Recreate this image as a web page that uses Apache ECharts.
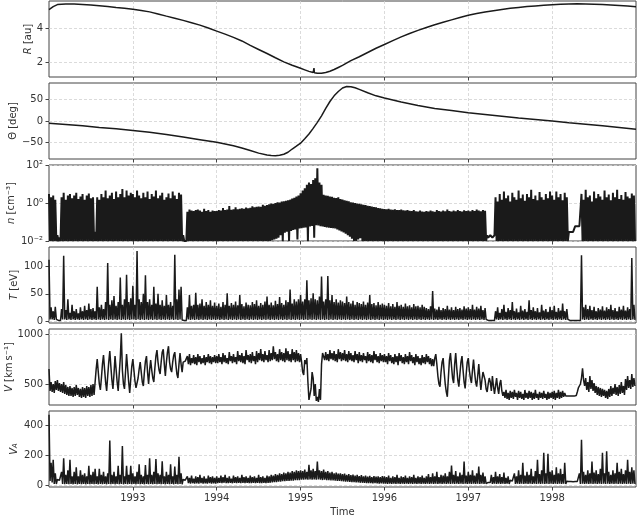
<!DOCTYPE html>
<html><head><meta charset="utf-8">
<script src="https://cdn.jsdelivr.net/npm/echarts@6.0.0/dist/echarts.min.js"></script>
<style>html,body{margin:0;padding:0;background:#fff}#c{width:637px;height:518px}</style>
</head><body><div id="c"></div>
<script>
// ---------------- data ----------------
const yearTicks = [1993, 1994, 1995, 1996, 1997, 1998];

// heliocentric distance R [au]
const rYears = [1992.00,1992.05,1992.10,1992.20,1992.30,1992.40,1992.50,1992.60,1992.70,1992.80,1992.90,
  1993.00,1993.10,1993.20,1993.30,1993.40,1993.50,1993.60,1993.70,1993.80,1993.90,
  1994.00,1994.10,1994.20,1994.30,1994.40,1994.50,1994.60,1994.70,1994.80,1994.90,1994.95,
  1995.00,1995.05,1995.10,1995.15,1995.155,1995.16,1995.165,1995.20,1995.25,1995.30,1995.35,1995.40,1995.45,1995.50,1995.60,1995.70,1995.80,1995.90,
  1996.00,1996.10,1996.20,1996.30,1996.40,1996.50,1996.60,1996.70,1996.80,1996.90,
  1997.00,1997.10,1997.20,1997.30,1997.40,1997.50,1997.60,1997.70,1997.80,1997.90,
  1998.00,1998.10,1998.20,1998.30,1998.40,1998.50,1998.60,1998.70,1998.80,1998.90,1999.00];
const rValues = [5.10,5.28,5.40,5.43,5.43,5.41,5.37,5.33,5.29,5.23,5.18,
  5.12,5.05,4.97,4.85,4.72,4.60,4.47,4.33,4.19,4.02,
  3.84,3.66,3.47,3.26,3.00,2.76,2.52,2.27,2.03,1.83,1.74,
  1.65,1.56,1.47,1.40,1.395,1.66,1.39,1.355,1.36,1.40,1.48,1.58,1.70,1.82,2.10,2.33,2.58,2.83,
  3.05,3.28,3.50,3.70,3.88,4.05,4.21,4.36,4.50,4.64,
  4.77,4.87,4.96,5.04,5.11,5.18,5.23,5.28,5.32,5.36,
  5.39,5.42,5.44,5.45,5.44,5.42,5.40,5.38,5.35,5.31,5.27];

// heliographic latitude Theta [deg]
const thetaYears = [1992.0,1992.2,1992.4,1992.6,1992.8,1993.0,1993.2,1993.4,1993.6,1993.8,
  1994.0,1994.1,1994.2,1994.3,1994.4,1994.5,1994.6,1994.65,1994.7,1994.75,1994.8,1994.85,1994.9,1994.95,
  1995.0,1995.05,1995.1,1995.15,1995.2,1995.25,1995.3,1995.35,1995.4,1995.45,1995.5,1995.55,1995.6,1995.65,1995.7,1995.8,1995.9,
  1996.0,1996.2,1996.4,1996.6,1996.8,1997.0,1997.2,1997.4,1997.6,1997.8,1998.0,1998.2,1998.4,1998.6,1998.8,1999.0];
const thetaValues = [-5,-8,-11,-15,-18,-22,-26,-31,-37,-43,
  -49,-53,-57,-62,-68,-74,-78.5,-79.7,-80,-79,-76.5,-72,-64.5,-58,
  -51,-41,-30,-17,-3,12,29,45,58,68,76,79.5,79,76.5,73,65,58,
  53,44,36,29,24,19,15,11,7,3.5,0,-4,-7.5,-11,-15,-19];

// dense series, sampled every 1/80 yr starting 1992.0
const SAMPLE_START = 1992, SAMPLES_PER_YEAR = 80;

// proton density n [cm^-3]
const nValues = [
 3,.01,2,.01,2.5,.01,1.5,.01,.02,.01,.015,.01,2,.01,3.5,.01,
 1.5,.01,2.5,.01,3,.01,1.8,.01,2.5,.01,3.5,.01,1.6,.01,2.2,.01,
 3,.01,1.5,.01,2.5,.01,3.2,.01,1.8,.01,2,.01,.03,.01,2,.01,
 1.5,.01,3,.01,2,.01,4.5,.01,1.8,.01,2.5,.01,3.5,.01,1.6,.01,
 4,.01,2,.01,3,.01,5.5,.01,2,.01,4.5,.01,2.5,.01,3.5,.01,
 3,.01,2,.01,4.5,.01,2.5,.01,1.8,.01,3.5,.01,2,.01,4,.01,
 1.6,.01,3,.01,2.2,.01,4.5,.01,1.8,.01,2.5,.01,3.5,.01,1.5,.01,
 2,.01,3.2,.01,1.8,.01,4,.01,2.5,.01,1.6,.01,3.5,.01,2.8,.01,
 .02,.01,.012,.01,.35,.01,.45,.01,.4,.01,.38,.01,.42,.01,.45,.01,
 .4,.01,.35,.01,.5,.01,.38,.01,.42,.01,.35,.01,.4,.01,.38,.01,
 .38,.01,.42,.01,.4,.01,.55,.01,.42,.01,.45,.01,.7,.01,.44,.01,
 .46,.01,.6,.01,.47,.01,.5,.01,.52,.01,.5,.01,.58,.01,.53,.01,
 .56,.01,.68,.01,.6,.01,.63,.01,.66,.01,.64,.01,.8,.01,.72,.01,
 .78,.01,.85,.01,.95,.011,.9,.012,1,.013,1.1,.015,1.05,.02,1.2,.01,
 1.25,.027,1.3,.031,1.4,.01,1.5,.034,1.7,.038,1.9,.04,2.2,.012,2.5,.046,
 3.2,.047,4.5,.05,6,.052,9,.01,12,.058,10,.062,16,.015,20,.068,
 68,.065,12,.06,9,.058,2.7,.055,2.5,.052,2.4,.05,2.2,.048,2.1,.047,
 1.9,.045,1.8,.04,2,.036,1.6,.032,1.5,.028,1.4,.024,1.3,.02,1.25,.017,
 1.1,.013,1.05,.01,1,.01,.95,.012,.9,.014,.85,.01,.8,.01,.78,.01,
 .72,.01,.7,.01,.65,.01,.62,.01,.6,.01,.55,.01,.52,.01,.5,.01,
 .48,.01,.47,.01,.5,.01,.45,.01,.44,.01,.47,.01,.43,.01,.42,.01,
 .45,.01,.41,.01,.4,.01,.43,.01,.39,.01,.38,.01,.42,.01,.37,.01,
 .36,.01,.4,.01,.36,.01,.35,.01,.38,.01,.36,.01,.4,.01,.37,.01,
 .35,.01,.42,.01,.38,.01,.36,.01,.4,.01,.37,.01,.45,.01,.38,.01,
 .36,.01,.4,.01,.37,.01,.42,.01,.38,.01,.36,.01,.41,.01,.38,.01,
 .4,.01,.37,.01,.42,.01,.38,.01,.45,.01,.4,.01,.37,.01,.42,.01,
 .39,.01,.02,.015,.015,.02,.02,.015,.015,.02,2,.01,1.2,.01,3,.01,
 1.5,.01,4,.01,1.8,.01,2.5,.01,1.2,.01,3.5,.01,2,.01,1.5,.01,
 4.5,.01,1.8,.01,2.8,.01,1.3,.01,3,.01,2,.01,5,.01,1.6,.01,
 2.5,.01,1.4,.01,3.8,.01,2,.01,1.5,.01,3,.01,1.8,.01,4,.01,
 2.5,.01,1.5,.01,4,.01,2,.01,3,.01,1.4,.01,3.5,.01,2,.01,
 .03,.03,.03,.03,.03,.03,.06,.06,.06,.06,.06,.06,3,.01,1.5,.01,
 5,.01,2,.01,2.5,.01,1.2,.01,4,.01,1.8,.01,3,.01,2.2,.01,
 1.5,.01,4.5,.01,2,.01,2.8,.01,1.4,.01,3.5,.01,2,.01,5,.01,
 1.6,.01,2.6,.01,1.5,.01,3.8,.01,2.2,.01,1.8,.01,3.2,.01,2.5,.01];

// proton temperature T [eV]
const tValues = [
 113,3,25,3,18,2,26,3,3,1,2,1,22,3,120,3,
 20,2,40,3,15,2,30,3,18,2,22,3,14,2,25,3,
 18,2,28,3,20,2,32,3,22,2,24,3,18,2,63,3,
 25,2,30,3,22,2,35,3,107,2,30,3,38,2,46,3,
 28,2,35,3,80,2,30,3,40,2,85,3,35,2,42,3,
 65,3,30,2,129,3,40,2,35,3,50,2,84,3,35,2,
 40,3,30,2,63,3,32,2,50,3,30,2,38,3,28,2,
 48,3,30,2,35,3,28,2,122,3,40,2,58,3,63,2,
 3,1,2,1,25,3,48,2,28,3,30,2,52,3,30,2,
 32,3,40,2,28,3,35,2,30,3,38,2,28,3,34,2,
 28,3,32,2,26,3,35,2,30,3,51,2,28,3,33,2,
 30,3,36,2,29,3,48,2,31,3,27,2,34,3,30,2,
 29,3,35,2,31,3,38,2,28,3,33,2,30,3,36,2,
 45,3,30,2,34,3,29,2,37,3,31,2,44,3,33,2,
 30,3,38,2,35,3,58,2,32,3,40,2,36,3,40,2,
 48,3,36,2,40,3,75,2,38,3,42,2,51,3,40,2,
 38,3,45,2,82,3,36,2,40,3,83,2,38,3,48,2,
 35,3,40,2,34,3,38,2,36,3,33,2,45,3,35,2,
 32,3,37,2,30,3,35,2,33,3,31,2,36,3,30,2,
 34,3,48,2,31,3,33,2,29,3,35,2,30,3,32,2,
 30,3,28,2,33,3,27,2,31,3,26,2,35,3,28,2,
 30,3,26,2,32,3,27,2,29,3,25,2,31,3,27,2,
 28,3,25,2,30,3,26,2,24,3,22,2,27,3,55,2,
 23,3,21,2,26,3,20,2,24,3,22,2,28,3,21,2,
 25,3,20,2,26,3,22,2,24,3,21,2,27,3,23,2,
 25,3,22,2,30,3,21,2,26,3,23,2,28,3,20,2,
 24,3,3,1,2,1,3,1,2,1,18,3,25,2,15,3,
 22,2,30,3,17,2,24,3,20,2,35,3,18,2,23,3,
 16,2,28,3,19,2,22,3,17,2,38,3,20,2,25,3,
 18,2,24,3,16,2,30,3,19,2,22,3,17,2,26,3,
 20,2,28,3,17,2,24,3,19,2,32,3,18,2,22,3,
 3,1,2,1,2,1,3,1,2,1,3,1,121,3,25,2,
 30,3,22,2,28,3,20,2,26,3,18,2,24,3,21,2,
 27,3,19,2,25,3,22,2,30,3,20,2,24,3,18,2,
 26,3,21,2,28,3,19,2,25,3,22,2,116,3,30,2];

// solar wind speed V [km/s]
const vValues = [
 650,430,520,420,500,410,530,440,540,430,510,420,500,410,520,400,
 490,390,470,380,480,380,460,370,470,380,490,390,460,370,450,360,
 470,370,460,360,480,380,470,370,490,380,500,390,
 520,650,750,620,500,440,560,700,
 790,650,520,430,580,720,830,680,
 540,450,600,780,650,520,430,600,
 760,1010,640,500,450,620,800,660,
 520,410,550,680,
 750,640,530,460,440,560,650,720,
 620,520,480,620,730,780,620,500,
 640,740,640,560,520,660,780,840,
 720,640,600,720,820,850,700,580,
 720,820,880,720,650,620,720,790,
 820,700,600,560,700,810,700,620,
 720,740,730,750,
 780,700,800,690,760,710,790,700,
 770,690,800,720,780,700,760,710,
 790,690,770,720,800,710,780,700,
 770,720,790,710,
 780,710,800,720,770,700,810,720,790,710,760,700,820,730,780,710,
 800,720,770,700,830,730,790,720,810,710,780,700,840,740,790,720,
 800,710,820,730,780,700,830,720,810,740,850,730,800,720,830,740,
 790,720,840,730,810,740,880,750,820,730,800,720,850,740,820,730,
 810,720,860,740,830,730,800,720,850,740,820,720,840,730,810,720,
 800,720,620,590,740,700,760,520,340,330,450,620,560,380,500,330,
 370,320,450,340,700,812,800,740,820,740,800,730,840,750,810,740,
 830,730,800,720,850,750,820,730,810,740,840,730,800,720,830,740,
 810,730,790,720,830,740,800,710,820,730,790,720,810,740,780,710,
 820,730,800,720,790,710,830,740,800,720,780,710,810,730,790,720,
 800,720,780,700,810,730,790,710,770,700,800,720,780,690,810,730,
 790,710,770,700,800,720,780,700,820,730,790,710,770,690,800,720,
 780,700,760,690,790,710,770,700,800,720,780,700,760,680,
 750,680,760,800,700,580,500,473,
 620,720,760,620,500,420,372,560,
 740,810,680,560,510,700,810,660,
 540,473,600,720,780,640,520,456,
 600,720,
 760,640,560,510,640,745,620,520,
 473,580,700,560,440,540,620,640,
 540,450,420,500,560,520,430,580,
 480,400,480,560,460,400,500,540,
 430,380,
 420,360,440,350,410,340,430,360,
 420,350,440,370,410,340,430,360,
 420,350,400,340,440,360,410,350,
 430,360,420,340,410,350,440,360,
 400,340,420,360,410,350,430,360,
 400,340,420,350,410,360,
 420,350,430,340,410,360,440,350,
 420,360,430,370,410,380,
 380,380,380,380,380,380,378,378,380,385,
 420,460,440,500,560,658,540,480,
 560,440,520,420,580,450,540,430,
 510,410,480,390,470,380,460,370,
 450,380,440,360,430,350,450,370,
 480,380,460,400,500,390,470,380,
 490,400,520,410,480,390,550,440,
 580,460,540,450,600,470,560,480];

// Alfven speed V_A [km/s]
const vaValues = [
 468,30,150,20,170,10,80,10,40,30,35,30,90,10,180,8,
 70,10,100,8,170,10,60,8,90,10,120,8,60,10,100,8,
 70,10,80,8,60,10,130,8,70,10,90,8,110,10,60,8,
 110,10,70,8,90,10,60,8,80,10,298,8,70,10,90,8,
 60,10,130,8,70,10,262,8,60,10,130,8,70,10,130,8,
 80,10,60,8,90,10,140,8,70,10,60,8,135,10,70,8,
 180,10,70,8,90,10,175,8,80,10,70,8,160,10,60,8,
 90,10,70,8,140,10,60,8,125,10,70,8,190,10,80,8,
 40,35,35,30,60,15,50,12,65,15,45,12,60,14,55,12,
 70,15,50,12,60,14,45,12,65,15,55,12,60,14,50,12,
 60,15,50,18,65,15,55,18,70,16,50,15,60,18,45,15,
 65,17,55,15,60,18,50,15,70,17,55,15,60,18,50,16,
 65,15,55,18,60,15,50,17,70,16,55,15,60,18,50,15,
 65,17,60,18,70,20,65,22,75,22,70,25,80,25,75,28,
 85,28,80,30,90,30,85,32,95,32,90,35,100,35,95,35,
 100,38,95,38,105,40,90,38,137,40,100,38,110,40,95,38,
 159,40,100,38,95,36,105,38,90,36,95,35,85,34,90,33,
 80,32,85,30,78,30,80,28,75,27,78,26,70,25,75,24,
 68,22,72,22,65,20,70,20,62,18,68,18,60,17,65,16,
 58,15,63,15,55,14,62,15,58,14,60,13,55,14,62,13,
 60,12,55,10,65,12,50,10,60,12,55,10,70,12,50,10,
 60,12,55,10,65,12,50,10,60,12,55,10,70,12,50,10,
 60,12,55,10,65,12,50,10,60,12,75,10,55,12,80,10,
 60,12,90,10,55,12,70,10,65,12,80,10,60,12,90,10,
 132,12,70,10,95,12,60,10,85,12,70,10,159,12,65,10,
 90,12,70,10,100,12,65,10,80,12,126,10,70,12,85,10,
 60,12,22,20,20,20,70,10,55,12,90,10,60,12,75,10,
 55,12,85,10,50,12,60,10,35,30,30,28,80,10,60,12,
 100,10,70,12,150,10,65,12,90,10,70,12,110,10,60,12,
 95,10,170,12,75,10,100,12,216,10,80,12,210,10,90,12,
 100,10,70,12,120,10,80,12,110,10,75,12,150,10,28,26,
 27,26,26,25,25,25,26,25,27,26,80,10,303,12,90,10,
 70,12,100,10,80,12,159,10,85,12,100,10,75,12,110,10,
 216,12,80,10,227,12,90,10,70,12,100,10,80,12,150,10,
 90,12,110,10,75,12,100,10,170,12,90,10,120,12,100,10];

// ---------------- chart ----------------
const FONT = 'DejaVu Sans';
const TXT = '#333';
const LINE = '#1a1a1a';
const TOPS = [1, 83, 165, 247, 329, 411], H = 76;

const sampled = (arr, f) => arr.map((v, k) => [SAMPLE_START + k / SAMPLES_PER_YEAR, f ? f(v) : v]);
const paired = (xs, ys) => xs.map((x, k) => [x, ys[k]]);

const SUP = { '0': '\u2070', '1': '\u00b9', '2': '\u00b2', '3': '\u00b3', '-': '\u207b' };
const sup = s => String(s).split('').map(c => SUP[c] || c).join('');
const minus = s => String(s).replace('-', '\u2212');

const richName = {
  i: { fontFamily: FONT, fontSize: 10, color: TXT, fontStyle: 'italic' },
  r: { fontFamily: FONT, fontSize: 10, color: TXT },
  iv: { fontFamily: FONT, fontSize: 10, color: TXT, fontStyle: 'italic', lineHeight: 17, verticalAlign: 'bottom' },
  sub: { fontFamily: FONT, fontSize: 7, color: TXT, fontStyle: 'italic', verticalAlign: 'bottom' }
};

const gridLine = { show: true, lineStyle: { color: '#d2d2d2', width: 0.8, type: [3, 2] } };

const panels = [
  { min: 1.14, max: 5.61, ticks: [2, 4], name: '{i|R}{r| [au]}', gap: 16 },
  { min: -87.5, max: 87.6, ticks: [-50, 0, 50], name: '{r|\u0398 [deg]}', gap: 31 },
  { min: -2, max: 2, ticks: [-2, 0, 2], name: '{i|n}{r| [cm' + sup(-3) + ']}', gap: 33, log: true },
  { min: -3.7, max: 136.3, ticks: [0, 50, 100], name: '{i|T}{r| [eV]}', gap: 30 },
  { min: 288.7, max: 1053, ticks: [500, 1000], name: '{i|V}{r| [km\u2009s' + sup(-1) + ']}', gap: 35 },
  { min: -10, max: 493, ticks: [0, 200, 400], name: '{iv|V}{sub|A}', gap: 30 }
];

const grid = TOPS.map(t => ({
  left: 49, right: 1, top: t, height: H, containLabel: false, outerBoundsMode: 'none',
  show: true, borderColor: '#444', borderWidth: 1, backgroundColor: 'transparent'
}));

const xAxis = TOPS.map((t, i) => ({
  type: 'value', gridIndex: i, min: 1992, max: 1999, interval: 1,
  axisLine: { show: false, onZero: false },
  axisTick: { show: true, customValues: yearTicks, length: 3.5, inside: false, lineStyle: { color: '#444', width: 1 } },
  axisLabel: { show: i === 5, customValues: yearTicks, fontFamily: FONT, fontSize: 10, color: TXT, margin: 6, formatter: v => String(v) },
  splitLine: gridLine,
  name: i === 5 ? 'Time' : '', nameLocation: 'middle', nameGap: 20, nameMoveOverlap: false,
  nameTextStyle: { fontFamily: FONT, fontSize: 10, color: TXT }
}));

const yAxis = panels.map((p, i) => ({
  type: 'value', gridIndex: i, min: p.min, max: p.max,
  axisLine: { show: false, onZero: false },
  axisTick: { show: true, customValues: p.ticks, length: 3.5, lineStyle: { color: '#444', width: 1 } },
  axisLabel: {
    customValues: p.ticks, fontFamily: FONT, fontSize: 10, color: TXT, margin: 6,
    formatter: p.log ? (v => '10' + sup(v)) : (v => minus(v))
  },
  splitLine: gridLine,
  name: p.name, nameLocation: 'middle', nameGap: p.gap, nameRotate: 90, nameMoveOverlap: false,
  nameTextStyle: { fontFamily: FONT, fontSize: 10, color: TXT, rich: richName }
}));

const lineSeries = (i, data, w) => ({
  type: 'line', xAxisIndex: i, yAxisIndex: i, data, showSymbol: false, symbol: 'none',
  lineStyle: { color: LINE, width: w, join: 'bevel' }, animation: false, silent: true, clip: true
});

const series = [
  lineSeries(0, paired(rYears, rValues), 1.5),
  lineSeries(1, paired(thetaYears, thetaValues), 1.5),
  lineSeries(2, sampled(nValues, v => Math.log10(v)), 2.0),
  lineSeries(3, sampled(tValues), 1.5),
  lineSeries(4, sampled(vValues), 1.5),
  lineSeries(5, sampled(vaValues), 1.5)
];

const chart = echarts.init(document.getElementById('c'), null, { renderer: 'canvas', width: 637, height: 518 });
chart.setOption({ animation: false, backgroundColor: '#fff', grid, xAxis, yAxis, series });
</script></body></html>
